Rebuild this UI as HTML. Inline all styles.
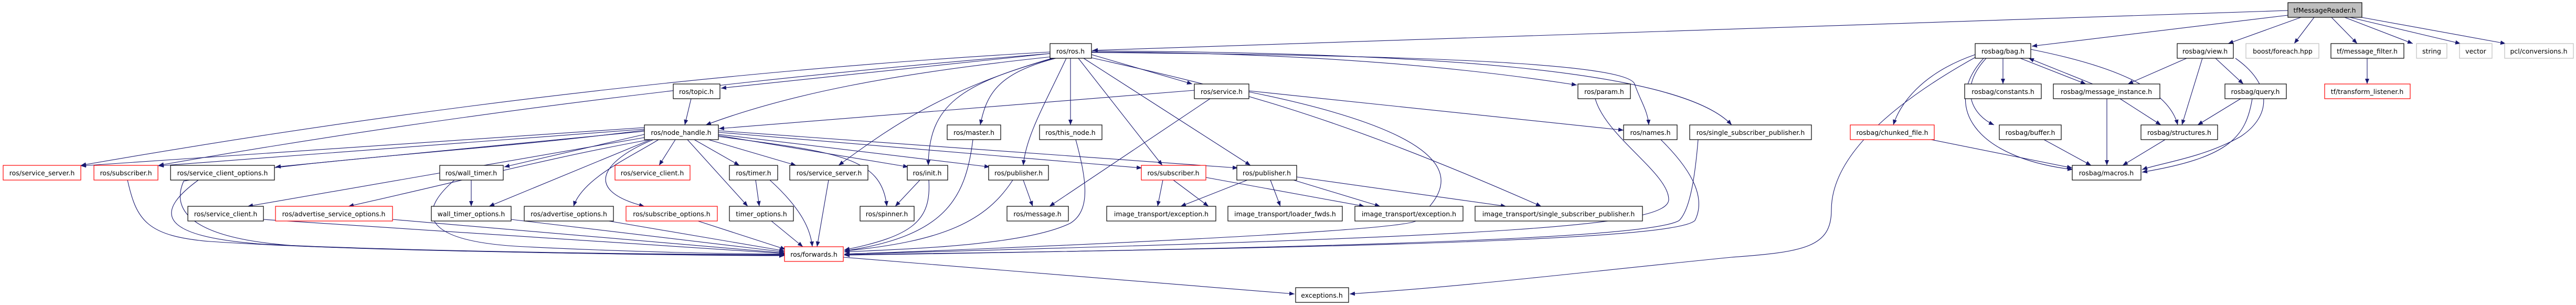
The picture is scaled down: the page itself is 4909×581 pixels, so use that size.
<!DOCTYPE html>
<html><head><meta charset="utf-8"><style>
html,body{margin:0;padding:0;background:#fff;}
svg{display:block;}
text{font-family:"DejaVu Sans","Liberation Sans",sans-serif;font-size:12.5px;text-anchor:middle;fill:#000;}
.e{fill:none;stroke:#191970;stroke-width:1.1;marker-end:url(#ah);}
.b{fill:#fff;stroke:#000;stroke-width:1.2;}
.r{fill:#fff;stroke:#f00;stroke-width:1.2;}
.g{fill:#fff;stroke:#bfbfbf;stroke-width:1.2;}
</style></head><body>
<svg width="4909" height="581" viewBox="0 0 4909 581" xmlns="http://www.w3.org/2000/svg">
<defs><marker id="ah" markerUnits="userSpaceOnUse" markerWidth="10" markerHeight="8" refX="10" refY="4" orient="auto"><path d="M0,0 L10,4 L0,8 z" fill="#191970"/></marker></defs>
<g>
<!-- from tfMessageReader -->
<path class="e" d="M4360 20 L2082 96"/>
<path class="e" d="M4360 29 L3872 88"/>
<path class="e" d="M4385 33 L4246 83"/>
<path class="e" d="M4410 33 L4372 83"/>
<path class="e" d="M4443 33 L4492 83"/>
<path class="e" d="M4468 33 L4598 83"/>
<path class="e" d="M4478 33 L4689 83"/>
<path class="e" d="M4500 33 L4775 83"/>
<!-- from ros/ros.h -->
<path class="e" d="M2001 99 Q1100 150 154 315"/>
<path class="e" d="M2001 102 Q1100 175 302 315"/>
<path class="e" d="M2001 102 L1374 168"/>
<path class="e" d="M2005 108 C1700 140 1500 180 1345 238"/>
<path class="e" d="M2080 104 L2272 160"/>
<path class="e" d="M2080 99 C2500 100 2800 130 3005 162"/>
<path class="e" d="M2080 100 C2700 105 3100 120 3115 160 C3125 190 3140 210 3142 238"/>
<path class="e" d="M2080 97 C2700 100 3200 130 3300 238"/>
<path class="e" d="M2012 111 C1900 140 1880 180 1868 238"/>
<path class="e" d="M2040 111 L2040 238"/>
<path class="e" d="M2008 111 C1830 160 1770 200 1769 315"/>
<path class="e" d="M2032 111 C1990 200 1955 260 1950 315"/>
<path class="e" d="M2005 111 C1800 170 1700 240 1598 315"/>
<path class="e" d="M2055 111 L2215 315"/>
<path class="e" d="M2065 111 L2383 315"/>
<path class="e" d="M2080 110 C2300 160 2500 200 2937 393"/>
<!-- topic -->
<path class="e" d="M1317 188 L1305 238"/>
<!-- service -->
<path class="e" d="M2276 172 L1370 245"/>
<path class="e" d="M2306 188 L2000 393"/>
<path class="e" d="M2380 173 L3094 248"/>
<path class="e" d="M2380 175 C2900 280 2720 390 2700 420 C2680 440 2000 470 1609 484"/>
<!-- param, names, ssp -->
<path class="e" d="M3040 188 C3060 260 3180 330 3180 380 C3180 430 2900 450 1609 484"/>
<path class="e" d="M3165 266 C3230 330 3250 380 3230 420 C3200 450 2800 470 1609 485"/>
<path class="e" d="M3236 266 C3230 340 3220 400 3200 420 C3150 450 2700 470 1609 486"/>
<!-- master etc -->
<path class="e" d="M1854 266 C1840 380 1800 450 1609 478"/>
<path class="e" d="M2050 266 C2070 340 2080 400 2040 425 C1950 470 1700 475 1609 480"/>
<path class="e" d="M1753 343 L1706 393"/>
<path class="e" d="M1770 343 C1775 420 1740 450 1609 476"/>
<path class="e" d="M1950 343 L1968 393"/>
<path class="e" d="M1930 343 C1880 420 1800 460 1609 478"/>
<path class="e" d="M1440 343 L1447 393"/>
<path class="e" d="M1467 343 C1530 400 1545 440 1548 470"/>
<path class="e" d="M1579 343 L1557 470"/>
<path class="e" d="M1470 421 L1530 470"/>
<path class="e" d="M1330 421 L1497 475"/>
<path class="e" d="M1160 421 L1495 478"/>
<path class="e" d="M898 343 L898 393"/>
<path class="e" d="M866 343 C800 400 790 460 1000 470 C1200 480 1400 484 1495 484"/>
<path class="e" d="M974 418 L1495 480"/>
<path class="e" d="M748 418 L1495 482"/>
<path class="e" d="M502 418 L1495 483"/>
<path class="e" d="M378 343 C300 400 290 450 500 465 C800 480 1300 485 1495 485"/>
<path class="e" d="M243 343 C260 420 280 450 400 460 C700 480 1300 486 1495 486"/>
<path class="e" d="M1228 248 C900 290 600 300 350 345 C330 390 340 460 600 470 C900 480 1300 487 1495 487"/>
<!-- node_handle -->
<path class="e" d="M1228 243 L154 316"/>
<path class="e" d="M1228 246 L302 316"/>
<path class="e" d="M1228 250 L525 318"/>
<path class="e" d="M1228 256 L961 318"/>
<path class="e" d="M1240 266 L932 393"/>
<path class="e" d="M1228 262 L472 393"/>
<path class="e" d="M1238 266 C1050 300 900 340 664 393"/>
<path class="e" d="M1255 266 C1200 300 1110 340 1093 393"/>
<path class="e" d="M1245 266 C1160 300 1100 360 1228 393"/>
<path class="e" d="M1287 266 L1256 315"/>
<path class="e" d="M1323 266 L1409 315"/>
<path class="e" d="M1310 266 L1425 393"/>
<path class="e" d="M1350 266 L1517 315"/>
<path class="e" d="M1369 258 L1731 318"/>
<path class="e" d="M1369 260 C1600 290 1680 300 1690 393"/>
<path class="e" d="M1369 256 L1886 318"/>
<path class="e" d="M1369 252 L2176 320"/>
<path class="e" d="M1369 249 L2359 320"/>
<!-- subscriber / publisher -->
<path class="e" d="M2216 343 L2206 393"/>
<path class="e" d="M2236 343 L2303 393"/>
<path class="e" d="M2298 338 L2600 393"/>
<path class="e" d="M2377 343 L2250 393"/>
<path class="e" d="M2421 343 L2440 393"/>
<path class="e" d="M2465 343 L2630 393"/>
<path class="e" d="M2471 337 L2870 393"/>
<!-- exceptions -->
<path class="e" d="M1607 490 L2467 560"/>
<path class="e" d="M3770 106 C3600 200 3490 300 3490 400 C3490 470 3440 480 3300 490 C3000 520 2800 545 2572 560"/>
<!-- rosbag -->
<path class="e" d="M3764 104 C3660 140 3620 200 3608 238"/>
<path class="e" d="M3817 111 L3817 160"/>
<path class="e" d="M3850 111 L3975 160"/>
<path class="e" d="M3988 160 L3866 111"/>
<path class="e" d="M3785 111 C3730 170 3760 220 3800 238"/>
<path class="e" d="M3870 94 C4000 120 4130 160 4150 238"/>
<path class="e" d="M3780 111 C3700 200 3760 300 3950 323"/>
<path class="e" d="M4167 111 L4055 160"/>
<path class="e" d="M4197 111 L4158 238"/>
<path class="e" d="M4222 111 L4275 160"/>
<path class="e" d="M4260 111 C4330 160 4330 220 4270 260 C4200 300 4120 310 4082 323"/>
<path class="e" d="M4270 188 L4188 238"/>
<path class="e" d="M4292 188 C4280 260 4250 300 4082 328"/>
<path class="e" d="M4040 188 L4118 238"/>
<path class="e" d="M4015 188 L4015 315"/>
<path class="e" d="M4126 266 L4045 315"/>
<path class="e" d="M3895 266 L3985 315"/>
<path class="e" d="M3680 266 L3949 320"/>
<path class="e" d="M4511 111 L4511 160"/>
</g>
<g>
<rect x="4360" y="5" width="141" height="28" fill="#bfbfbf" stroke="#000" stroke-width="1.2"/><text x="4430" y="24">tfMessageReader.h</text>
<rect class="b" x="2001" y="83" width="79" height="28"/><text x="2040" y="102">ros/ros.h</text>
<rect class="b" x="1283" y="160" width="89" height="28"/><text x="1327" y="179">ros/topic.h</text>
<rect class="b" x="1228" y="238" width="141" height="28"/><text x="1298" y="257">ros/node_handle.h</text>
<rect class="b" x="1805" y="238" width="102" height="28"/><text x="1856" y="257">ros/master.h</text>
<rect class="b" x="1981" y="238" width="119" height="28"/><text x="2040" y="257">ros/this_node.h</text>
<rect class="r" x="6" y="315" width="148" height="28"/><text x="80" y="334">ros/service_server.h</text>
<rect class="r" x="179" y="315" width="122" height="28"/><text x="240" y="334">ros/subscriber.h</text>
<rect class="b" x="325" y="315" width="198" height="28"/><text x="424" y="334">ros/service_client_options.h</text>
<rect class="b" x="838" y="315" width="121" height="28"/><text x="898" y="334">ros/wall_timer.h</text>
<rect class="r" x="1172" y="315" width="143" height="28"/><text x="1243" y="334">ros/service_client.h</text>
<rect class="b" x="1390" y="315" width="92" height="28"/><text x="1436" y="334">ros/timer.h</text>
<rect class="b" x="1505" y="315" width="149" height="28"/><text x="1580" y="334">ros/service_server.h</text>
<rect class="b" x="1729" y="315" width="77" height="28"/><text x="1767" y="334">ros/init.h</text>
<rect class="b" x="1884" y="315" width="114" height="28"/><text x="1941" y="334">ros/publisher.h</text>
<rect class="r" x="2175" y="315" width="123" height="28"/><text x="2236" y="334">ros/subscriber.h</text>
<rect class="b" x="2357" y="315" width="114" height="28"/><text x="2414" y="334">ros/publisher.h</text>
<rect class="b" x="358" y="393" width="144" height="28"/><text x="430" y="412">ros/service_client.h</text>
<rect class="r" x="525" y="393" width="223" height="28"/><text x="636" y="412">ros/advertise_service_options.h</text>
<rect class="b" x="822" y="393" width="152" height="28"/><text x="898" y="412">wall_timer_options.h</text>
<rect class="b" x="999" y="393" width="170" height="28"/><text x="1084" y="412">ros/advertise_options.h</text>
<rect class="r" x="1193" y="393" width="174" height="28"/><text x="1280" y="412">ros/subscribe_options.h</text>
<rect class="b" x="1390" y="393" width="122" height="28"/><text x="1451" y="412">timer_options.h</text>
<rect class="b" x="1639" y="393" width="103" height="28"/><text x="1690" y="412">ros/spinner.h</text>
<rect class="b" x="1919" y="393" width="117" height="28"/><text x="1977" y="412">ros/message.h</text>
<rect class="b" x="2109" y="393" width="208" height="28"/><text x="2213" y="412">image_transport/exception.h</text>
<rect class="b" x="2340" y="393" width="218" height="28"/><text x="2449" y="412">image_transport/loader_fwds.h</text>
<rect class="b" x="2582" y="393" width="206" height="28"/><text x="2685" y="412">image_transport/exception.h</text>
<rect class="b" x="2811" y="393" width="319" height="28"/><text x="2970" y="412">image_transport/single_subscriber_publisher.h</text>
<rect class="r" x="1495" y="470" width="112" height="28"/><text x="1551" y="489">ros/forwards.h</text>
<rect class="b" x="2469" y="548" width="101" height="28"/><text x="2519" y="567">exceptions.h</text>
<rect class="b" x="2276" y="160" width="104" height="28"/><text x="2328" y="179">ros/service.h</text>
<rect class="b" x="3007" y="160" width="100" height="28"/><text x="3057" y="179">ros/param.h</text>
<rect class="b" x="3094" y="238" width="102" height="28"/><text x="3145" y="257">ros/names.h</text>
<rect class="b" x="3220" y="238" width="232" height="28"/><text x="3336" y="257">ros/single_subscriber_publisher.h</text>
<rect class="b" x="3764" y="83" width="106" height="28"/><text x="3817" y="102">rosbag/bag.h</text>
<rect class="b" x="4149" y="83" width="107" height="28"/><text x="4202" y="102">rosbag/view.h</text>
<rect class="g" x="4280" y="83" width="139" height="28"/><text x="4350" y="102">boost/foreach.hpp</text>
<rect class="b" x="4442" y="83" width="139" height="28"/><text x="4511" y="102">tf/message_filter.h</text>
<rect class="g" x="4605" y="83" width="58" height="28"/><text x="4634" y="102">string</text>
<rect class="g" x="4687" y="83" width="62" height="28"/><text x="4718" y="102">vector</text>
<rect class="g" x="4773" y="83" width="131" height="28"/><text x="4838" y="102">pcl/conversions.h</text>
<rect class="b" x="3744" y="160" width="146" height="28"/><text x="3817" y="179">rosbag/constants.h</text>
<rect class="b" x="3913" y="160" width="203" height="28"/><text x="4014" y="179">rosbag/message_instance.h</text>
<rect class="b" x="4240" y="160" width="117" height="28"/><text x="4298" y="179">rosbag/query.h</text>
<rect class="r" x="4430" y="160" width="163" height="28"/><text x="4511" y="179">tf/transform_listener.h</text>
<rect class="r" x="3526" y="238" width="160" height="28"/><text x="3606" y="257">rosbag/chunked_file.h</text>
<rect class="b" x="3810" y="238" width="118" height="28"/><text x="3869" y="257">rosbag/buffer.h</text>
<rect class="b" x="4080" y="238" width="146" height="28"/><text x="4153" y="257">rosbag/structures.h</text>
<rect class="b" x="3949" y="315" width="131" height="28"/><text x="4014" y="334">rosbag/macros.h</text>
</g>
</svg>
</body></html>
